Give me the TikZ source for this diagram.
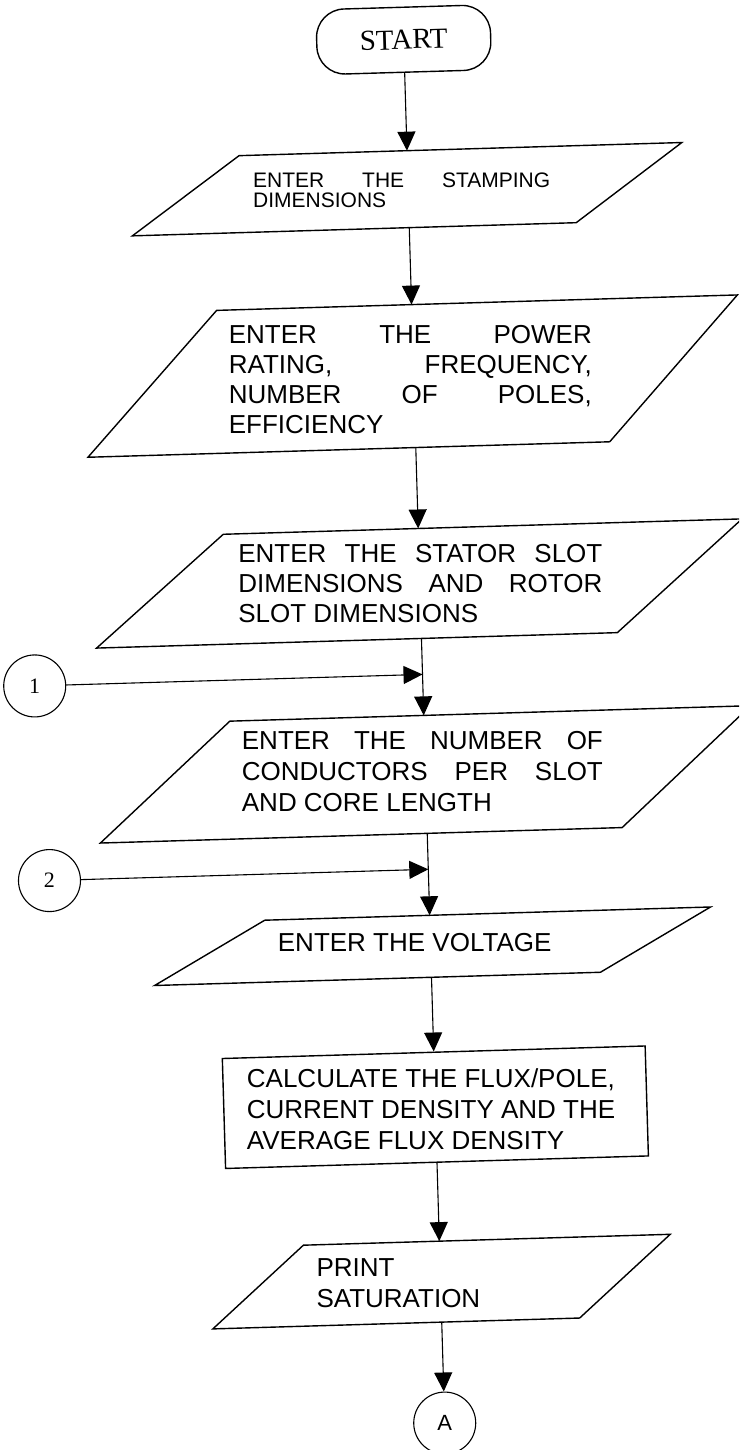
\documentclass[tikz,border=0pt]{standalone}
\usepackage{fontspec}
\newfontfamily\arialf{Liberation Sans}
\newfontfamily\tnrf{Liberation Serif}
\usetikzlibrary{arrows.meta}
\newcommand{\jl}[2]{\makebox[#1][l]{#2}}
\begin{document}
\begin{tikzpicture}[x=1pt,y=-1pt,
  box/.style={line width=1.4pt, line join=miter},
  arr/.style={line width=1.1pt, -{Triangle[length=19pt,width=18pt]}},
  txt/.style={anchor=base west, inner sep=0pt},
  big/.style={font={\arialf\fontsize{26}{30}\selectfont}},
  bigb/.style={font={\arialf\fontsize{26}{31}\selectfont}},
  circ/.style={draw, circle, line width=1.1pt, minimum size=62pt, inner sep=0pt},
]
\useasboundingbox (0,0) rectangle (739,1450);
\clip (0,0) rectangle (739,1450);
\begin{scope}[rotate around={1.7:(370,725)}]
% START
\node[draw, box, transform shape, rounded corners=28pt, minimum width=174pt, minimum height=65pt, inner sep=0pt, font={\tnrf\fontsize{29}{32}\selectfont}] (start) at (424,41) {START};

% para 1
\draw[box] (147,229) -- (256,152) -- (699,152) -- (591,229) -- cycle;
\coordinate (p1n) at (424,152);
\coordinate (p1s) at (424,229);
\node[txt, font={\arialf\fontsize{21}{20}\selectfont}] (t1) at (269,184) {\parbox[t]{297pt}{\jl{297pt}{ENTER\hfill THE\hfill STAMPING}\\DIMENSIONS}};

% para 2
\draw[box] (96,449) -- (229,306) -- (750,306) -- (618,449) -- cycle;
\coordinate (p2n) at (424,306);
\coordinate (p2s) at (424,449);
\node[txt, big] (t2) at (240,339) {\parbox[t]{363pt}{\jl{363pt}{ENTER\hfill THE\hfill POWER}\\\jl{363pt}{RATING,\hfill FREQUENCY,}\\\jl{363pt}{NUMBER\hfill OF\hfill POLES,}\\EFFICIENCY}};

% para 3
\draw[box] (99,640) -- (229,530) -- (748,530) -- (620,640) -- cycle;
\coordinate (p3n) at (424,530);
\coordinate (p3s) at (424,640);
\node[txt, big] (t3) at (243,559) {\parbox[t]{364pt}{\jl{364pt}{ENTER\hfill THE\hfill STATOR\hfill SLOT}\\\jl{364pt}{DIMENSIONS\hfill AND\hfill ROTOR}\\SLOT DIMENSIONS}};

% connector 1
\node[circ, font={\tnrf\fontsize{22}{22}\selectfont}] (c1) at (36,676) {1};
\coordinate (j1) at (424,676);

% para 4
\draw[box] (97,835) -- (230,717) -- (751,717) -- (619,835) -- cycle;
\coordinate (p4n) at (424,717);
\coordinate (p4s) at (424,835);
\node[txt, bigb] (t4) at (241,746) {\parbox[t]{361pt}{\jl{361pt}{ENTER\hfill THE\hfill NUMBER\hfill OF}\\\jl{361pt}{CONDUCTORS\hfill PER\hfill SLOT}\\AND CORE LENGTH}};

% connector 2
\node[circ, font={\tnrf\fontsize{22}{22}\selectfont}] (c2) at (45,871) {2};
\coordinate (j2) at (424,871);

% para 5
\draw[box] (147,979) -- (259,917) -- (705,917) -- (593,979) -- cycle;
\coordinate (p5n) at (424,917);
\coordinate (p5s) at (424,979);
\node[txt, big] (t5) at (271,949) {ENTER THE VOLTAGE};

% process box
\node[draw, box, transform shape, minimum width=423pt, minimum height=110pt, inner sep=0pt] (calc) at (424,1109) {};
\node[txt, bigb] (t6) at (236,1084) {\parbox[t]{400pt}{CALCULATE THE FLUX/POLE,\\CURRENT DENSITY AND THE\\AVERAGE FLUX DENSITY}};

% print
\draw[box] (195,1324) -- (288,1243) -- (655,1243) -- (562,1324) -- cycle;
\coordinate (p6n) at (424,1243);
\coordinate (p6s) at (424,1324);
\node[txt, bigb] (t7) at (300,1275) {\parbox[t]{300pt}{PRINT\\SATURATION}};

% connector A
\node[circ, font={\arialf\fontsize{22}{22}\selectfont}] (cA) at (424,1425) {A};

% arrows
\draw[arr] (start) -- (p1n);
\draw[arr] (p1s) -- (p2n);
\draw[arr] (p2s) -- (p3n);
\draw[arr] (p3s) -- (p4n);
\draw[arr] (c1) -- (j1);
\draw[arr] (p4s) -- (p5n);
\draw[arr] (c2) -- (j2);
\draw[arr] (p5s) -- (calc.north);
\draw[arr] (calc.south) -- (p6n);
\draw[arr] (p6s) -- (cA);
\end{scope}
\end{tikzpicture}
\end{document}
